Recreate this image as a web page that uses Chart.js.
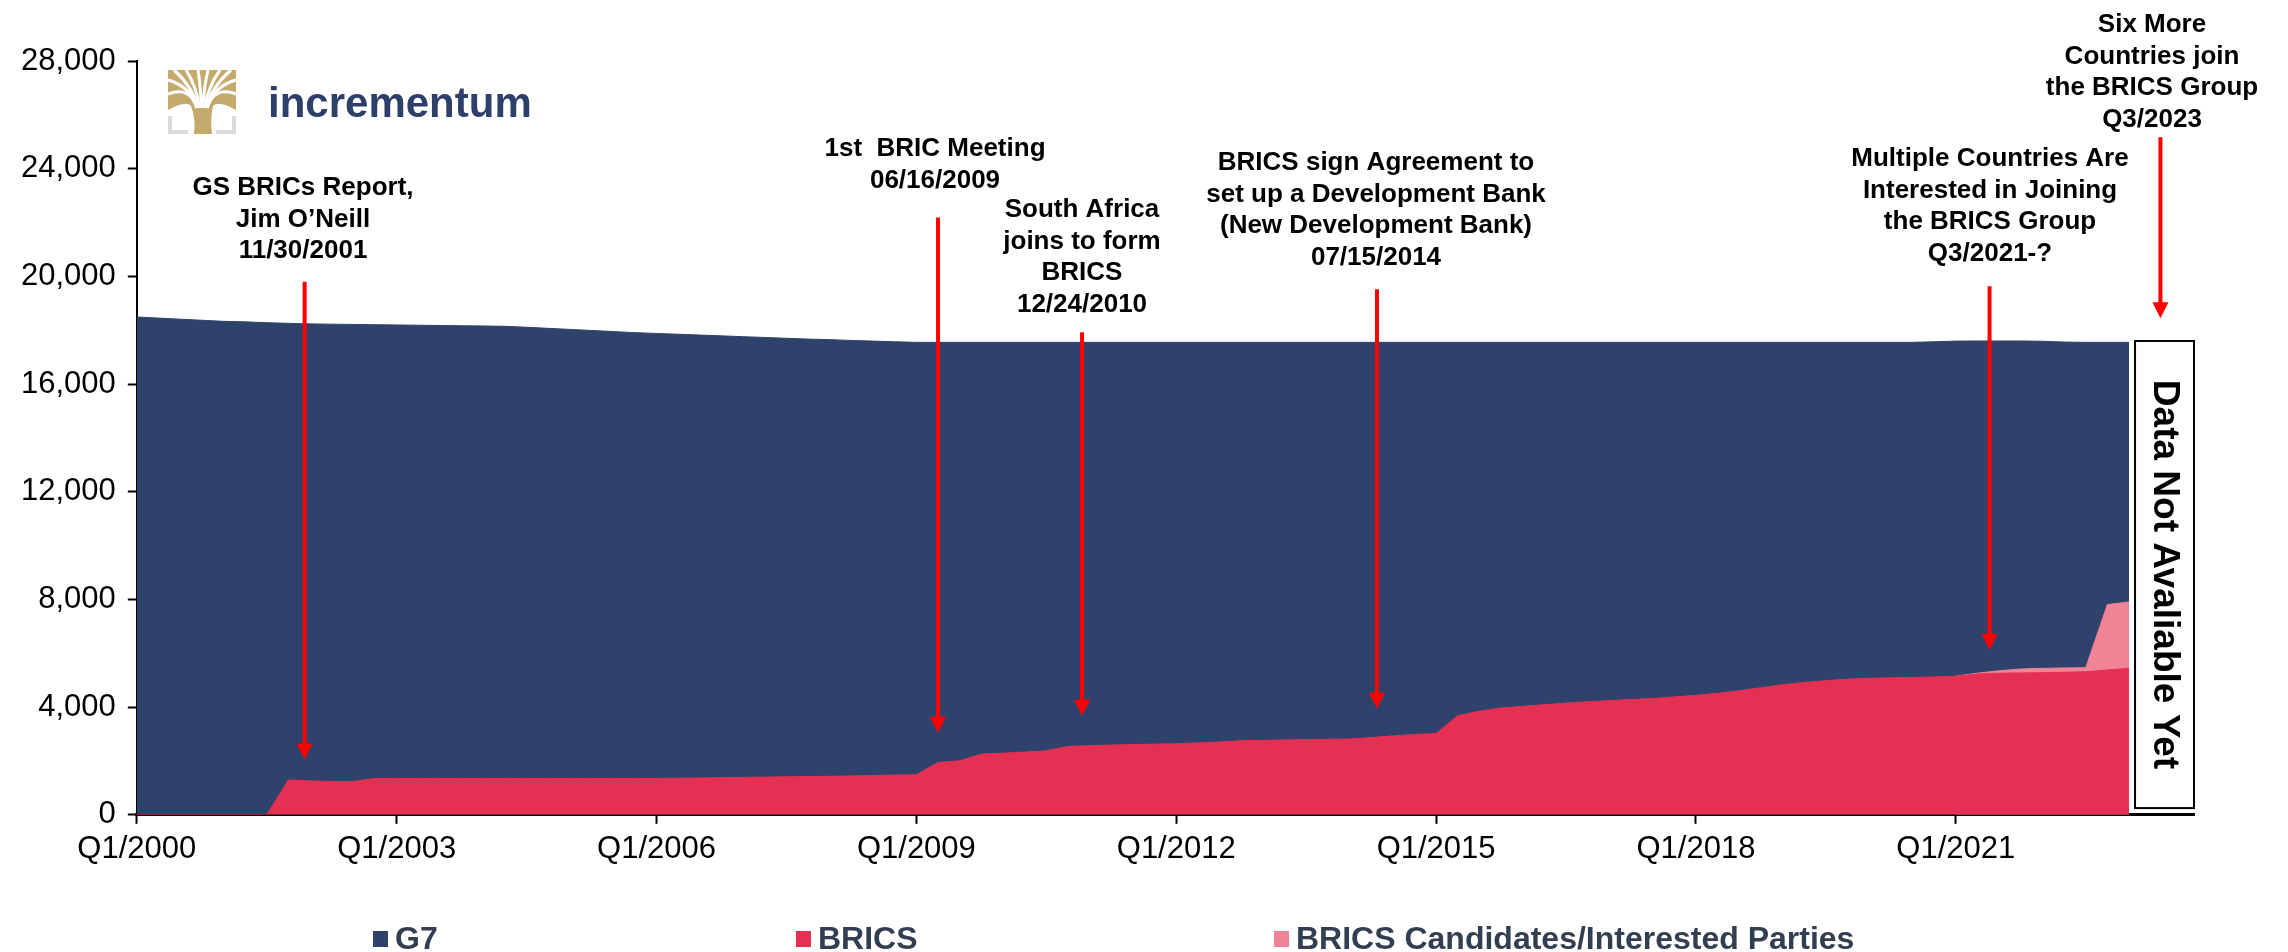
<!DOCTYPE html>
<html>
<head>
<meta charset="utf-8">
<title>G7 vs BRICS gold reserves</title>
<script src="https://cdn.jsdelivr.net/npm/chart.js@4.4.1/dist/chart.umd.min.js"></script>
<style>
	body { margin: 0; background: #fff; }
</style>
</head>
<body>
<canvas id="area-chart" width="2288" height="952"></canvas>
<script>
// quarterly, Q1/2000 .. Q1/2023 (tonnes)
var g7 = [
	18490, 18450, 18410, 18370, 18330, 18310, 18280, 18255,
	18235, 18225, 18215, 18205, 18195, 18185, 18175, 18165,
	18158, 18145, 18110, 18070, 18030, 17990, 17950, 17910,
	17880, 17850, 17820, 17790, 17760, 17730, 17700, 17670,
	17650, 17620, 17595, 17570, 17550, 17550, 17550, 17550,
	17550, 17550, 17550, 17550, 17550, 17550, 17550, 17550,
	17550, 17550, 17550, 17550, 17550, 17550, 17550, 17550,
	17550, 17550, 17550, 17550, 17550, 17550, 17550, 17550,
	17550, 17550, 17550, 17550, 17550, 17550, 17550, 17550,
	17550, 17550, 17550, 17550, 17550, 17550, 17550, 17550,
	17550, 17550, 17550, 17570, 17595, 17600, 17600, 17600,
	17590, 17560, 17550, 17550, 17550
];
var brics = [
	0, 0, 0, 0, 0, 0, 0, 1290,
	1260, 1238, 1238, 1350, 1350, 1350, 1350, 1350,
	1350, 1350, 1350, 1350, 1350, 1350, 1350, 1350,
	1350, 1360, 1370, 1380, 1390, 1400, 1410, 1420,
	1430, 1445, 1460, 1475, 1490, 1944, 2007, 2256,
	2290, 2330, 2379, 2539, 2570, 2590, 2610, 2625,
	2640, 2670, 2703, 2751, 2765, 2780, 2795, 2805,
	2814, 2870, 2930, 2985, 3022, 3680, 3850, 3966,
	4030, 4090, 4150, 4200, 4240, 4280, 4320, 4380,
	4440, 4509, 4610, 4720, 4830, 4918, 4980, 5040,
	5070, 5090, 5100, 5120, 5150, 5230, 5260, 5270,
	5280, 5295, 5316, 5380, 5440
];
// extra holdings of candidate countries, from Q1/2021 on
var candidatesFrom = 84;
var candidates = [0, 30, 90, 146, 160, 160, 149, 2427, 2467];

var quarterLabels = [];
for (var yr = 2000; yr <= 2023; yr++) {
	for (var q = 1; q <= 4; q++) quarterLabels.push('Q' + q + '/' + yr);
}

var yTicks = [0, 4000, 8000, 12000, 16000, 20000, 24000, 28000];

var events = [
	{ at: 7.75, from: 19800, to: 2050, tx: 303, ty: 186, lines: ['GS BRICs Report,', 'Jim O\u2019Neill', '11/30/2001'] },
	{ at: 37.0, from: 22190, to: 3050, tx: 935, ty: 147, lines: ['1st  BRIC Meeting', '06/16/2009'] },
	{ at: 43.65, from: 17920, to: 3680, tx: 1082, ty: 208, lines: ['South Africa', 'joins to form', 'BRICS', '12/24/2010'] },
	{ at: 57.27, from: 19520, to: 3940, tx: 1376, ty: 161, lines: ['BRICS sign Agreement to', 'set up a Development Bank', '(New Development Bank)', '07/15/2014'] },
	{ at: 85.56, from: 19630, to: 6130, tx: 1990, ty: 157, lines: ['Multiple Countries Are', 'Interested in Joining', 'the BRICS Group', 'Q3/2021-?'] },
	{ at: 93.45, from: 25170, to: 18440, tx: 2152, ty: 23, lines: ['Six More', 'Countries join', 'the BRICS Group', 'Q3/2023'] }
];

var FONT = '"Liberation Sans", Arial, sans-serif';
var colG7 = '#2F426B';
var colBrics = '#E43153';
var colCand = '#F08396';

var candTotal = brics.map(function (v, i) {
	if (i < candidatesFrom) return null;
	return v + candidates[i - candidatesFrom];
});

function drawArrow(ctx, x, y1, y2) {
	ctx.strokeStyle = '#FF0000';
	ctx.lineWidth = 4;
	ctx.beginPath();
	ctx.moveTo(x, y1);
	ctx.lineTo(x, y2 - 12);
	ctx.stroke();
	ctx.fillStyle = '#FF0000';
	ctx.beginPath();
	ctx.moveTo(x - 8, y2 - 16);
	ctx.lineTo(x + 8, y2 - 16);
	ctx.lineTo(x, y2);
	ctx.closePath();
	ctx.fill();
}

function drawLogo(ctx, x, y) {
	var gold = '#C5AA6E';
	ctx.save();
	// crown + trunk
	ctx.fillStyle = gold;
	ctx.beginPath();
	ctx.moveTo(x, y);
	ctx.lineTo(x + 68, y);
	ctx.lineTo(x + 68, y + 40);
	ctx.quadraticCurveTo(x + 50, y + 30, x + 45, y + 36);
	ctx.quadraticCurveTo(x + 42, y + 50, x + 44, y + 64);
	ctx.lineTo(x + 26, y + 64);
	ctx.quadraticCurveTo(x + 28, y + 50, x + 23, y + 36);
	ctx.quadraticCurveTo(x + 18, y + 30, x, y + 40);
	ctx.closePath();
	ctx.fill();
	// branch gaps
	ctx.strokeStyle = '#fff';
	ctx.lineWidth = 3;
	var tips = [[6, 0], [18, 0], [30, 0], [40, 0], [52, 0], [63, 0], [0, 10], [68, 10], [0, 24], [68, 24]];
	tips.forEach(function (t) {
		ctx.beginPath();
		ctx.moveTo(x + 34 + (t[0] - 34) * 0.15, y + 38);
		ctx.quadraticCurveTo(x + 34 + (t[0] - 34) * 0.35, y + 16, x + t[0], y + t[1]);
		ctx.stroke();
	});
	// brackets
	ctx.strokeStyle = '#D9D9D9';
	ctx.lineWidth = 4;
	ctx.beginPath();
	ctx.moveTo(x + 2, y + 46); ctx.lineTo(x + 2, y + 62); ctx.lineTo(x + 20, y + 62);
	ctx.moveTo(x + 66, y + 46); ctx.lineTo(x + 66, y + 62); ctx.lineTo(x + 48, y + 62);
	ctx.stroke();
	// word mark
	ctx.fillStyle = '#2E3F6B';
	ctx.font = 'bold 42px ' + FONT;
	ctx.textAlign = 'left';
	ctx.textBaseline = 'alphabetic';
	ctx.fillText('incrementum', x + 100, y + 47);
	ctx.restore();
}

var decorPlugin = {
	id: 'decor',
	afterDraw: function (chart) {
		var ctx = chart.ctx;
		var xs = chart.scales.x, ys = chart.scales.y;
		ctx.save();

		// no data box
		var bx1 = xs.getPixelForValue(brics.length - 1) + 6;
		var bx2 = xs.getPixelForValue(quarterLabels.length - 1);
		var by1 = ys.getPixelForValue(17600);
		var by2 = ys.getPixelForValue(250);
		ctx.fillStyle = '#fff';
		ctx.fillRect(bx1, by1, bx2 - bx1, by2 - by1);
		ctx.strokeStyle = '#000';
		ctx.lineWidth = 2;
		ctx.strokeRect(bx1, by1, bx2 - bx1, by2 - by1);
		ctx.save();
		ctx.translate((bx1 + bx2) / 2, (by1 + by2) / 2);
		ctx.rotate(Math.PI / 2);
		ctx.fillStyle = '#000';
		ctx.font = 'bold 37px ' + FONT;
		ctx.textAlign = 'center';
		ctx.textBaseline = 'middle';
		ctx.fillText('Data Not Avaliable Yet', 0, 0);
		ctx.restore();

		// events
		events.forEach(function (ev) {
			var x = xs.getPixelForValue(ev.at);
			drawArrow(ctx, x, ys.getPixelForValue(ev.from), ys.getPixelForValue(ev.to));
			ctx.fillStyle = '#000';
			ctx.font = 'bold 26px ' + FONT;
			ctx.textAlign = 'center';
			ctx.textBaseline = 'middle';
			ev.lines.forEach(function (t, i) {
				ctx.fillText(t, ev.tx, ev.ty + 2 + i * 31.6);
			});
		});

		drawLogo(ctx, 168, 70);

		// legend
		var legendX = [373, 796, 1274];
		ctx.font = 'bold 32px ' + FONT;
		ctx.textAlign = 'left';
		ctx.textBaseline = 'middle';
		chart.data.datasets.forEach(function (ds, k) {
			ctx.fillStyle = ds.backgroundColor;
			ctx.fillRect(legendX[k], 931, 15, 16);
			ctx.fillStyle = '#333F50';
			ctx.fillText(ds.label, legendX[k] + 22, 940);
		});
		ctx.restore();
	}
};

var areaChart = new Chart(document.getElementById('area-chart'), {
	type: 'line',
	data: {
		labels: quarterLabels,
		datasets: [
			{
				label: 'G7',
				data: g7,
				backgroundColor: colG7,
				borderColor: colG7,
				fill: 'origin',
				order: 3
			},
			{
				label: 'BRICS',
				data: brics,
				backgroundColor: colBrics,
				borderColor: colBrics,
				fill: 'origin',
				order: 1
			},
			{
				label: 'BRICS Candidates/Interested Parties',
				data: candTotal,
				backgroundColor: colCand,
				borderColor: colCand,
				fill: 'origin',
				order: 2
			}
		]
	},
	options: {
		responsive: false,
		animation: false,
		layout: { padding: { left: 9, right: 94, top: 61, bottom: 77 } },
		elements: {
			point: { radius: 0, hoverRadius: 0 },
			line: { borderWidth: 1, tension: 0 }
		},
		plugins: {
			legend: { display: false },
			tooltip: { enabled: false }
		},
		scales: {
			x: {
				z: 1,
				ticks: {
					autoSkip: false,
					maxRotation: 0,
					padding: 7,
					color: '#000',
					font: { family: FONT, size: 31 },
					callback: function (v, i) { return i % 12 === 0 ? quarterLabels[i] : null; }
				},
				grid: { drawOnChartArea: false, drawTicks: true, tickLength: 9, tickColor: '#000', tickWidth: 2 },
				border: { color: '#000', width: 3 }
			},
			y: {
				z: 1,
				min: yTicks[0],
				max: yTicks[yTicks.length - 1],
				afterBuildTicks: function (axis) {
					axis.ticks = yTicks.map(function (v) { return { value: v }; });
				},
				ticks: {
					padding: 12,
					color: '#000',
					font: { family: FONT, size: 31 },
					callback: function (v) { return v.toLocaleString('en-US'); }
				},
				grid: { drawOnChartArea: false, drawTicks: true, tickLength: 9, tickColor: '#000', tickWidth: 2 },
				border: { color: '#000', width: 2 }
			}
		}
	},
	plugins: [decorPlugin]
});
</script>
</body>
</html>
